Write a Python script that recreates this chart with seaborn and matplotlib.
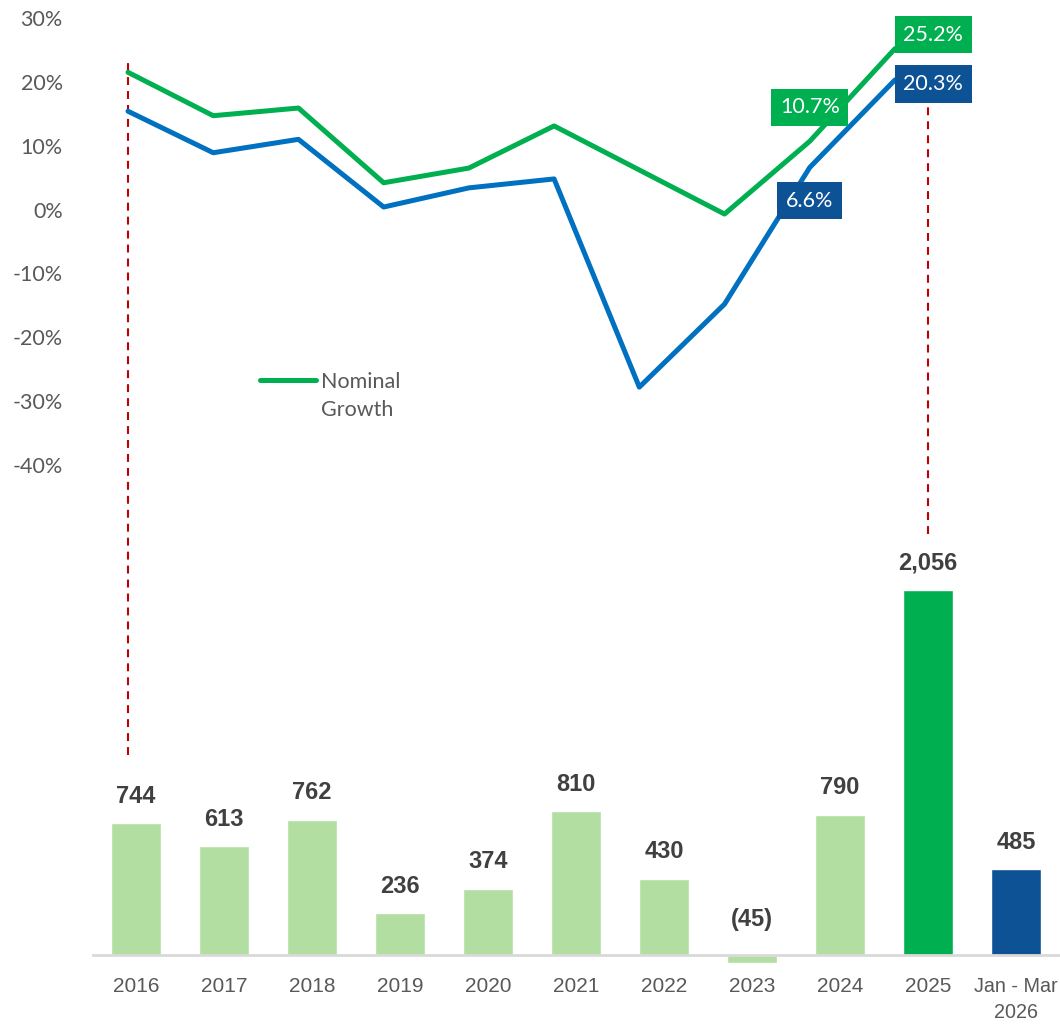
import numpy as np
import matplotlib.pyplot as plt
import seaborn as sns

# ---- data ----
categories = ["2016", "2017", "2018", "2019", "2020", "2021", "2022",
              "2023", "2024", "2025", "Jan - Mar\n2026"]
flows = [744, 613, 762, 236, 374, 810, 430, -45, 790, 2056, 485]
bar_colors = ["#b2dea2"] * 9 + ["#00b050", "#0e5296"]

line_years = categories[:10]
nominal_growth = [21.5, 14.7, 15.9, 4.2, 6.5, 13.1, 6.2, -0.7, 10.7, 25.2]
real_growth = [15.4, 8.9, 11.0, 0.4, 3.4, 4.8, -27.8, -14.8, 6.6, 20.3]
pct_ticks = [-40, -30, -20, -10, 0, 10, 20, 30]

GREEN = "#00b050"
BLUE_LINE = "#0070c0"
BLUE_BOX = "#0e5296"
GREY_TXT = "#595959"
DARK_TXT = "#404040"
RED = "#c00000"

sns.set_theme(style="white")
plt.rcParams['font.family'] = ['Liberation Sans', 'DejaVu Sans']

# ---- layout in pixels ----
W, H = 1060, 1027
L, R, T, B = 92, 1060, 18, 975
rect = [L / W, (H - B) / H, (R - L) / W, (B - T) / H]

fig = plt.figure(figsize=(W / 100, H / 100), dpi=100)

# ---- bars ----
ax_bar = fig.add_axes(rect)
sns.barplot(x=categories, y=flows, hue=categories, palette=bar_colors,
            saturation=1, width=0.57, legend=False, ax=ax_bar)
bar_px = 0.1775   # pixels per unit
zero_px = 955
ax_bar.set_ylim(-(B - zero_px) / bar_px, (zero_px - T) / bar_px)
ax_bar.set_xlim(-0.5, len(categories) - 0.5)
ax_bar.axhline(0, color="#d9d9d9", lw=2, zorder=1)
for s in ax_bar.spines.values():
    s.set_visible(False)
ax_bar.set_yticks([])
ax_bar.tick_params(axis='x', length=0, pad=1.5, labelsize=15, labelcolor=GREY_TXT)
for lab in ax_bar.get_xticklabels():
    lab.set_linespacing(1.45)
ax_bar.get_xticklabels()[-1].set_fontsize(14.2)

for i, v in enumerate(flows):
    txt = f"{v:,}" if v >= 0 else f"({abs(v)})"
    ax_bar.annotate(txt, xy=(i, max(v, 0)), xytext=(0, 11 if v >= 0 else 17),
                    textcoords="offset points", ha='center', va='bottom',
                    fontsize=17, fontweight='bold', color=DARK_TXT)

# dashed marker at the 2025 bar
ax_bar.vlines(9, 2370, 4797, color=RED, lw=1.5, linestyles=(0, (3.8, 2.9)), zorder=0)

# ---- growth lines ----
ax_line = fig.add_axes(rect)
ax_line.patch.set_visible(False)
x_line = np.arange(len(line_years))
sns.lineplot(x=x_line, y=nominal_growth, color=GREEN, linewidth=3.6,
             ax=ax_line, label="Nominal\nGrowth")
sns.lineplot(x=x_line, y=real_growth, color=BLUE_LINE, linewidth=3.6, ax=ax_line)

pct_px = 6.386
step_px = 85.22
first_px = 128
ax_line.set_ylim(30 - (B - T) / pct_px, 30)
ax_line.set_xlim((L - first_px) / step_px, (R - first_px) / step_px)
ax_line.set_xticks([])
ax_line.set_yticks(pct_ticks)
ax_line.set_yticklabels([f"{t}%" for t in pct_ticks], family=['Lato', 'DejaVu Sans'])
ax_line.tick_params(axis='y', length=0, pad=21, labelsize=15.5, labelcolor=GREY_TXT)
for s in ax_line.spines.values():
    s.set_visible(False)

# dashed marker at the 2016 start point
ax_line.vlines(0, -85.4, 23.0, color=RED, lw=1.5, linestyles=(0, (3.8, 2.9)), zorder=0)

box_font = dict(fontsize=15.5, color="white", family=['Lato', 'DejaVu Sans'])
def box_label(x, y, text, face, dx, dy, ha):
    ax_line.annotate(text, xy=(x, y), xytext=(dx, dy), textcoords="offset points",
                     ha=ha, va='center', zorder=5,
                     bbox=dict(boxstyle="square,pad=0.4", fc=face, ec="none"),
                     **box_font)

box_label(8, nominal_growth[8], f"{nominal_growth[8]}%", GREEN, 0, 24.5, 'center')
box_label(8, real_growth[8], f"{real_growth[8]}%", BLUE_BOX, 0, -24, 'center')
box_label(9, nominal_growth[9], f"{nominal_growth[9]}%", GREEN, 6, 10, 'left')
box_label(9, real_growth[9], f"{real_growth[9]}%", BLUE_BOX, 6, -3, 'left')

handles, labels = ax_line.get_legend_handles_labels()
leg = ax_line.legend(handles[:1], labels[:1], loc="upper left",
                     bbox_to_anchor=(260 / W, 1 - 372 / H), bbox_transform=fig.transFigure,
                     frameon=False, borderpad=0, borderaxespad=0, handlelength=2.6,
                     handletextpad=0.25, prop={'family': ['Lato', 'DejaVu Sans'], 'size': 15.5},
                     labelcolor=GREY_TXT)
for t in leg.get_texts():
    t.set_linespacing(1.5)
# keep the legend stroke level with the first text line
for ln in leg.get_lines():
    ln.set_solid_capstyle('round')
    ln.set_ydata(np.asarray(ln.get_ydata()) + 12)

fig.savefig("out.png", dpi=100)
